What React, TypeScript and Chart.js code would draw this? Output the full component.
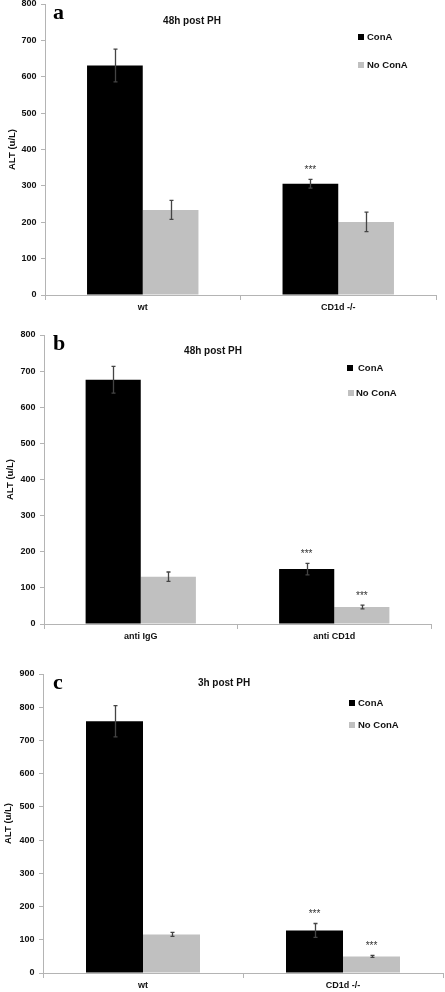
import React, { useEffect, useRef } from "react";
import { Chart, registerables } from "chart.js";

Chart.register(...registerables);

// ---------- DATA ----------
const seriesLabels = ["ConA", "No ConA"];
const yAxisTitle = "ALT (u/L)";

// Panel a
const aCategories = ["wt", "CD1d -/-"];
const aConA = [631, 306];
const aNoConA = [234, 201];
const aConAErr = [45, 12];
const aNoConAErr = [26, 27];
const aConAStars = ["", "***"];
const aNoConAStars = ["", ""];
const aTitle = "48h post PH";
const aLetter = "a";
const aYMax = 800;

// Panel b
const bCategories = ["anti IgG", "anti CD1d"];
const bConA = [676, 152];
const bNoConA = [131, 47];
const bConAErr = [37, 16];
const bNoConAErr = [13, 5];
const bConAStars = ["", "***"];
const bNoConAStars = ["", "***"];
const bTitle = "48h post PH";
const bLetter = "b";
const bYMax = 800;

// Panel c
const cCategories = ["wt", "CD1d -/-"];
const cConA = [758, 128];
const cNoConA = [116, 50];
const cConAErr = [47, 21];
const cNoConAErr = [6, 3];
const cConAStars = ["", "***"];
const cNoConAStars = ["", "***"];
const cTitle = "3h post PH";
const cLetter = "c";
const cYMax = 900;

const yStep = 100;

// ---------- STYLE / LAYOUT ----------
const SANS = "'Liberation Sans', Arial, sans-serif";
const SERIF = "'Liberation Serif', 'Times New Roman', serif";
const COLORS = ["#000000", "#c0c0c0"];
const AXIS = "#b4b4b4";
const W = 445;

type Layout = {
  top: number; height: number; left: number; right: number;
  areaTop: number; areaBottom: number; yTitleX: number;
  letterY: number; titleX: number; titleY: number;
  squareX: number[]; textX: number[]; legendY: number[];
};

const LAYOUTS: Layout[] = [
  { top: 0, height: 320, left: 45, right: 436, areaTop: 4, areaBottom: 295, yTitleX: 12,
    letterY: 18.5, titleX: 192, titleY: 21, squareX: [358, 358], textX: [367, 367], legendY: [37, 65] },
  { top: 320, height: 330, left: 44, right: 431, areaTop: 15, areaBottom: 304, yTitleX: 10.5,
    letterY: 30, titleX: 213, titleY: 31, squareX: [347, 348], textX: [358, 356], legendY: [48, 73] },
  { top: 650, height: 342, left: 43, right: 443, areaTop: 24, areaBottom: 323, yTitleX: 8,
    letterY: 38.5, titleX: 224, titleY: 33, squareX: [349, 349], textX: [358, 358], legendY: [53, 75] },
];

type Panel = {
  categories: string[]; conA: number[]; noConA: number[];
  conAErr: number[]; noConAErr: number[]; conAStars: string[]; noConAStars: string[];
  title: string; letter: string; yMax: number; layout: Layout;
};

const PANELS: Panel[] = [
  { categories: aCategories, conA: aConA, noConA: aNoConA, conAErr: aConAErr, noConAErr: aNoConAErr,
    conAStars: aConAStars, noConAStars: aNoConAStars, title: aTitle, letter: aLetter, yMax: aYMax, layout: LAYOUTS[0] },
  { categories: bCategories, conA: bConA, noConA: bNoConA, conAErr: bConAErr, noConAErr: bNoConAErr,
    conAStars: bConAStars, noConAStars: bNoConAStars, title: bTitle, letter: bLetter, yMax: bYMax, layout: LAYOUTS[1] },
  { categories: cCategories, conA: cConA, noConA: cNoConA, conAErr: cConAErr, noConAErr: cNoConAErr,
    conAStars: cConAStars, noConAStars: cNoConAStars, title: cTitle, letter: cLetter, yMax: cYMax, layout: LAYOUTS[2] },
];

function PanelChart({ panel }: { panel: Panel }) {
  const ref = useRef<HTMLCanvasElement | null>(null);
  useEffect(() => {
    if (!ref.current) return;
    const L = panel.layout;
    const errs = [panel.conAErr, panel.noConAErr];
    const stars = [panel.conAStars, panel.noConAStars];

    const annot = {
      id: "annot",
      afterDatasetsDraw(chart: any) {
        const ctx = chart.ctx as CanvasRenderingContext2D;
        const ys = chart.scales.y;
        chart.data.datasets.forEach((ds: any, i: number) => {
          const meta = chart.getDatasetMeta(i);
          meta.data.forEach((bar: any, j: number) => {
            const v = ds.data[j] as number;
            const e = errs[i][j];
            const x = Math.round(bar.x) + 0.5;
            const yt = ys.getPixelForValue(v + e);
            const yb = ys.getPixelForValue(v - e);
            ctx.save();
            ctx.strokeStyle = "#444";
            ctx.lineWidth = 1.3;
            ctx.beginPath();
            ctx.moveTo(x, yt); ctx.lineTo(x, yb);
            ctx.moveTo(x - 2, yt); ctx.lineTo(x + 2, yt);
            ctx.moveTo(x - 2, yb); ctx.lineTo(x + 2, yb);
            ctx.stroke();
            const s = stars[i][j];
            if (s) {
              ctx.fillStyle = "#333";
              ctx.font = `10px ${SANS}`;
              ctx.textAlign = "center";
              ctx.textBaseline = "middle";
              ctx.fillText(s, bar.x, yt - 9);
            }
            ctx.restore();
          });
        });
      },
      afterDraw(chart: any) {
        const ctx = chart.ctx as CanvasRenderingContext2D;
        ctx.save();
        // panel letter
        ctx.fillStyle = "#000";
        ctx.font = `bold 22px ${SERIF}`;
        ctx.textAlign = "left";
        ctx.textBaseline = "alphabetic";
        ctx.fillText(panel.letter, 53, L.letterY);
        // title
        ctx.font = `bold 10px ${SANS}`;
        ctx.textAlign = "center";
        ctx.textBaseline = "middle";
        ctx.fillStyle = "#111";
        ctx.fillText(panel.title, L.titleX, L.titleY);
        // legend
        chart.data.datasets.forEach((ds: any, i: number) => {
          ctx.fillStyle = ds.backgroundColor;
          ctx.fillRect(L.squareX[i], L.legendY[i] - 3, 6, 6);
          ctx.fillStyle = "#111";
          ctx.font = `bold 9.5px ${SANS}`;
          ctx.textAlign = "left";
          ctx.textBaseline = "middle";
          ctx.fillText(ds.label, L.textX[i], L.legendY[i] + 0.5);
        });
        ctx.restore();
      },
    };

    const chart = new Chart(ref.current, {
      type: "bar",
      data: {
        labels: panel.categories,
        datasets: [
          { label: seriesLabels[0], data: panel.conA, backgroundColor: COLORS[0], borderWidth: 0 },
          { label: seriesLabels[1], data: panel.noConA, backgroundColor: COLORS[1], borderWidth: 0 },
        ],
      },
      options: {
        animation: false,
        responsive: false,
        devicePixelRatio: 1,
        layout: { padding: { top: L.areaTop, right: W - L.right, bottom: 0, left: 0 } },
        datasets: { bar: { categoryPercentage: 0.57, barPercentage: 1 } },
        plugins: { legend: { display: false }, tooltip: { enabled: false }, title: { display: false } },
        scales: {
          x: {
            grid: { display: true, drawOnChartArea: false, drawTicks: true, tickLength: 5, color: AXIS, offset: true },
            border: { display: true, color: AXIS, width: 1 },
            ticks: { color: "#111", font: { family: SANS, size: 9, weight: "bold" }, padding: 2, maxRotation: 0 },
            afterFit(scale: any) {
              scale.height = L.height - L.areaBottom;
              scale.paddingLeft = 0; scale.paddingRight = 0;
            },
          },
          y: {
            min: 0,
            max: panel.yMax,
            grid: { display: true, drawOnChartArea: false, drawTicks: true, tickLength: 4, color: AXIS },
            border: { display: true, color: AXIS, width: 1 },
            ticks: { stepSize: yStep, color: "#111", font: { family: SANS, size: 9, weight: "bold" }, padding: 4.5 },
            title: {
              display: true, text: yAxisTitle, color: "#111",
              font: { family: SANS, size: 9.5, weight: "bold" },
              padding: { top: L.yTitleX - 5.7, bottom: 0 },
            },
            afterFit(scale: any) {
              scale.width = L.left;
              scale.paddingTop = 0; scale.paddingBottom = 0;
            },
          },
        },
      },
      plugins: [annot],
    } as any);
    return () => chart.destroy();
  }, [panel]);

  return (
    <canvas
      ref={ref}
      width={W}
      height={panel.layout.height}
      style={{ position: "absolute", left: 0, top: panel.layout.top, width: W, height: panel.layout.height, display: "block" }}
    />
  );
}

export default function App() {
  return (
    <div style={{ position: "absolute", left: 0, top: 0, width: W, height: 992, background: "#fff", overflow: "hidden" }}>
      {PANELS.map((p, i) => (
        <PanelChart key={i} panel={p} />
      ))}
    </div>
  );
}
